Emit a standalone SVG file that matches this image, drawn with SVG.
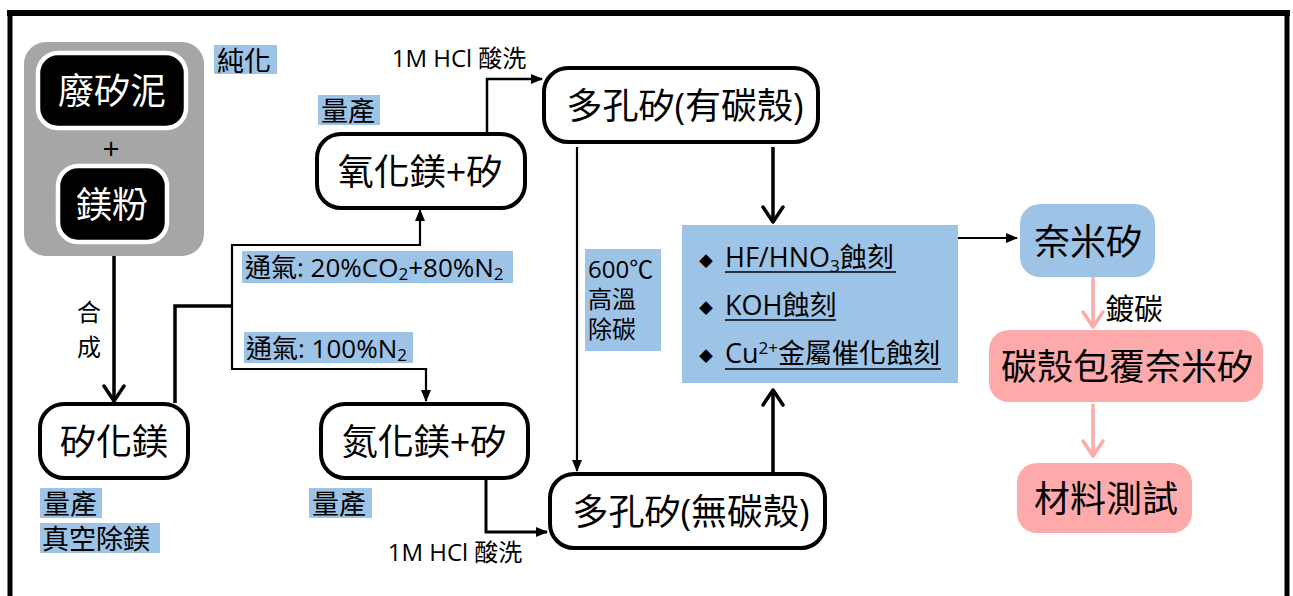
<svg xmlns="http://www.w3.org/2000/svg" width="1293" height="596" viewBox="0 0 1293 596">
<defs>
<style>
text{font-family:"Open Sans","Noto Sans CJK TC","Noto Sans CJK SC",sans-serif;fill:#000}
.box{fill:#fff;stroke:#000;stroke-width:4}
.blk{fill:#000;stroke:#fff;stroke-width:4.5}
.big{font-size:36px;dominant-baseline:central;text-anchor:middle}
.wbig{font-size:36px;dominant-baseline:central;text-anchor:middle;fill:#fff}
.lbl{fill:#9dc3e6}
.lt{font-size:26px;dominant-baseline:central}
.lc{font-size:27px;dominant-baseline:central}
.bul{font-size:27px}
.c{fill:none;stroke:#000}
.pk{fill:none;stroke:#ffaaaa;stroke-width:3.5}
</style>
<marker id="tri" markerUnits="userSpaceOnUse" markerWidth="12" markerHeight="12" viewBox="0 0 12 12" refX="11" refY="6" orient="auto"><path d="M0,1 L12,6 L0,11 Z" fill="#000"/></marker>
<marker id="chev" markerUnits="userSpaceOnUse" markerWidth="22" markerHeight="24" viewBox="0 0 22 24" refX="19" refY="12" orient="auto"><path d="M4,2 L19,12 L4,22" fill="none" stroke="#000" stroke-width="3.5" stroke-linecap="round" stroke-linejoin="round"/></marker>
<marker id="chevp" markerUnits="userSpaceOnUse" markerWidth="22" markerHeight="24" viewBox="0 0 22 24" refX="19" refY="12" orient="auto"><path d="M4,2 L19,12 L4,22" fill="none" stroke="#ffaaaa" stroke-width="3.5" stroke-linecap="round" stroke-linejoin="round"/></marker>
</defs>
<rect width="1293" height="596" fill="#fff"/>
<g id="frame">
<line x1="7" y1="13" x2="1290" y2="13" stroke="#000" stroke-width="6"/>
<line x1="10" y1="10" x2="10" y2="596" stroke="#000" stroke-width="5"/>
<line x1="1287" y1="10" x2="1287" y2="596" stroke="#000" stroke-width="5"/>
</g>
<g id="connectors">
<path class="c" d="M114,256 V401" stroke-width="3.5" marker-end="url(#chev)"/>
<path class="c" d="M175,403 V306 H232" stroke-width="3.5"/>
<path class="c" d="M232,306 V245 H420 V210" stroke-width="2.2" marker-end="url(#tri)"/>
<path class="c" d="M232,306 V369 H426 V401" stroke-width="2.2" marker-end="url(#tri)"/>
<path class="c" d="M487,133 V79 H542" stroke-width="2.5" marker-end="url(#tri)"/>
<path class="c" d="M486,478 V532 H547" stroke-width="3" marker-end="url(#tri)"/>
<path class="c" d="M577,147 V471" stroke-width="2.2" marker-end="url(#tri)"/>
<path class="c" d="M773,147 V222" stroke-width="3.5" marker-end="url(#chev)"/>
<path class="c" d="M773,473 V390" stroke-width="3.5" marker-end="url(#chev)"/>
<path class="c" d="M958,238 H1017" stroke-width="2.2" marker-end="url(#tri)"/>
<path class="pk" d="M1093,277 V327" marker-end="url(#chevp)"/>
<path class="pk" d="M1093,404 V456" marker-end="url(#chevp)"/>
</g>
<g id="raw">
<rect x="24" y="42" width="180" height="214" rx="22" fill="#a6a6a6"/>
</g>
<g id="n-waste">
<rect class="blk" x="38" y="53" width="148" height="75" rx="20"/>
<text class="wbig" x="112" y="90">廢矽泥</text>
</g>
<text x="111" y="147" font-size="30" text-anchor="middle" dominant-baseline="central">+</text>
<g id="n-mgpowder">
<rect class="blk" x="58" y="166" width="109" height="76" rx="20"/>
<text class="wbig" x="112" y="204">鎂粉</text>
</g>
<g id="n-mgo">
<rect class="box" x="317" y="134" width="208" height="74" rx="24"/>
<text class="big" x="420" y="171">氧化鎂+矽</text>
</g>
<g id="n-mg2si">
<rect class="box" x="40" y="404" width="148" height="74" rx="24"/>
<text class="big" x="114" y="441">矽化鎂</text>
</g>
<g id="n-mgn">
<rect class="box" x="321" y="404" width="207" height="74" rx="24"/>
<text class="big" x="424" y="441">氮化鎂+矽</text>
</g>
<g id="n-psi-c">
<rect class="box" x="544" y="68" width="274" height="74" rx="24"/>
<text class="big" x="685" y="105">多孔矽(有碳殼)</text>
</g>
<g id="n-psi">
<rect class="box" x="550" y="474" width="275" height="74" rx="24"/>
<text class="big" x="691" y="511">多孔矽(無碳殼)</text>
</g>
<g id="n-etch">
<rect x="682" y="225" width="276" height="158" fill="#9dc3e6"/>
<text x="699" y="266" font-size="14">◆</text>
<text class="bul" x="725" y="267">HF/HNO<tspan font-size="17" dy="5">3</tspan><tspan dy="-5">蝕刻</tspan></text>
<line x1="725" y1="272" x2="896" y2="272" stroke="#000" stroke-width="1.6"/>
<text x="699" y="313" font-size="14">◆</text>
<text class="bul" x="725" y="315">KOH蝕刻</text>
<line x1="725" y1="320" x2="836" y2="320" stroke="#000" stroke-width="1.6"/>
<text x="699" y="361" font-size="14">◆</text>
<text class="bul" x="725" y="363">Cu<tspan font-size="17" dy="-9">2+</tspan><tspan dy="9">金屬催化蝕刻</tspan></text>
<line x1="725" y1="369" x2="941" y2="369" stroke="#000" stroke-width="1.6"/>
</g>
<g id="n-nano">
<rect x="1020" y="204" width="135" height="73" rx="20" fill="#9dc3e6"/>
<text class="big" x="1088" y="241">奈米矽</text>
</g>
<g id="n-coated">
<rect x="989" y="330" width="274" height="72" rx="20" fill="#ffaaaa"/>
<text class="big" x="1127" y="366" font-size="35">碳殼包覆奈米矽</text>
</g>
<g id="n-test">
<rect x="1017" y="463" width="175" height="70" rx="20" fill="#ffaaaa"/>
<text class="big" x="1106" y="498">材料測試</text>
</g>
<g id="labels">
<rect class="lbl" x="214" y="45" width="63" height="29"/>
<text class="lc" x="217" y="60">純化</text>
<rect class="lbl" x="318" y="95" width="62" height="30"/>
<text class="lc" x="321" y="110">量產</text>
<rect class="lbl" x="242" y="251" width="271" height="32"/>
<text class="lt" x="245" y="267">通氣: 20%CO<tspan font-size="17" dy="6">2</tspan><tspan dy="-6">+80%N</tspan><tspan font-size="17" dy="6">2</tspan></text>
<rect class="lbl" x="244" y="332" width="169" height="31"/>
<text class="lt" x="246" y="348">通氣: 100%N<tspan font-size="17" dy="6">2</tspan></text>
<rect class="lbl" x="40" y="488" width="62" height="30"/>
<text class="lc" x="43" y="503">量產</text>
<rect class="lbl" x="40" y="523" width="120" height="30"/>
<text class="lc" x="42" y="538">真空除鎂</text>
<rect class="lbl" x="309" y="488" width="63" height="30"/>
<text class="lc" x="312" y="503">量產</text>
<rect class="lbl" x="585" y="249" width="76" height="102"/>
<text x="588" y="278" font-size="24">600℃</text>
<text x="588" y="308" font-size="24">高溫</text>
<text x="588" y="338" font-size="24">除碳</text>
<text x="459" y="57" font-size="24" text-anchor="middle" dominant-baseline="central">1M HCl 酸洗</text>
<text x="455" y="551" font-size="24" text-anchor="middle" dominant-baseline="central">1M HCl 酸洗</text>
<text x="89" y="311" font-size="24" text-anchor="middle" dominant-baseline="central">合</text>
<text x="89" y="346" font-size="24" text-anchor="middle" dominant-baseline="central">成</text>
<text x="1105" y="308" font-size="29" dominant-baseline="central">鍍碳</text>
</g>
</svg>
